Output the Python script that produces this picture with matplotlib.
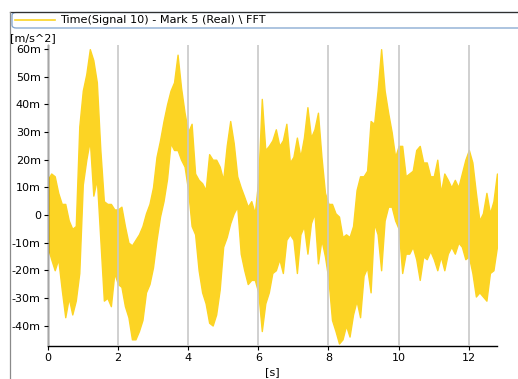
import numpy as np
import matplotlib
matplotlib.use("Agg")
import matplotlib.pyplot as plt
from matplotlib.ticker import FuncFormatter
from matplotlib.patches import FancyBboxPatch
from matplotlib.lines import Line2D

### envelope of the signal, every 0.1 s (values in m/s^2 * 1e-3)
time_s = [round(0.1 * i, 1) for i in range(128)] + [12.8]
upper_milli = [
    12.7, 15, 14, 8, 4, 4, -2, -5, -4, 32,
    45, 51, 60, 56, 48, 23.5, 5, 4, 4, 2,
    2, 3, -4, -10, -11, -9, -7, -4, 0.6, 4,
    10, 21, 27, 34, 40, 45, 48, 58, 46, 37,
    30, 33, 15, 12.7, 11.5, 9, 22, 20, 20, 17.5,
    12.7, 25, 34, 26, 14, 10, 6.6, 3, 5, 0.6,
    12.7, 42, 23.5, 25, 27, 31, 25, 27, 33, 19,
    21, 28, 21, 28, 39, 28, 31, 37, 21, 8,
    4, 4, 0.6, -0.6, -8, -7, -8, -4, 9, 14,
    14, 16, 34, 33, 45, 60, 45, 37, 30, 21,
    25, 25, 14, 15, 16, 23.5, 25, 19, 19, 14,
    14, 20, 8, 15, 12.7, 10, 12.7, 10, 15, 20,
    23.5, 19, 8, -2, 0.6, 8, 0.6, 5, 15,
]
lower_milli = [
    -11.5, -16, -20, -16, -27, -37, -30, -36, -31, -21,
    11, 20, 27, 7, 13, -9, -31, -30, -33, -21,
    -25, -26, -33, -37, -45, -45, -42, -38, -28, -25,
    -19, -9, -0.6, 5, 13, 26, 23.5, 23.5, 20, 17.5,
    9, -4, -7, -20, -28, -32, -39, -40, -36, -27,
    -11.5, -8, -3, 0.6, 3, -14, -20, -25, -23.5, -23.5,
    -28, -42, -32, -28, -21, -20, -16, -21, -9, -7,
    -9, -21, -7, -4, -14, -3, 0.6, -17.5, -9, -15,
    -23.5, -38, -42, -46.5, -45, -40, -44, -36, -31, -37,
    -22, -19, -28, -3, -7, -20, -2, 3, 3, -2,
    -5, -21, -14, -14, -11.5, -16, -23.5, -15, -16, -13,
    -16, -20, -15, -20, -14, -11.5, -14, -10, -11.5, -16,
    -15, -21, -29.5, -28, -29.5, -31, -21, -20, -11.5,
]
x_ticks = [0, 2, 4, 6, 8, 10, 12]
y_ticks = [-40, -30, -20, -10, 0, 10, 20, 30, 40, 50, 60]
legend_text = "Time(Signal 10) - Mark 5 (Real) \\ FFT"
sig_color = "#fcd424"

W, H = 518, 379
fig = plt.figure(figsize=(W / 100, H / 100), dpi=100)
ax = fig.add_axes([47.7 / W, 1 - 345.7 / H, (497.3 - 47.7) / W, (345.7 - 45) / H])

t = np.array(time_s)
up = np.array(upper_milli)
lo = np.array(lower_milli)
ax.fill_between(t, lo, up, color=sig_color, linewidth=1.0, edgecolor=sig_color, zorder=1)

ax.set_xlim(0, 12.81)
ax.set_ylim(-47.3, 61.5)
ax.set_xticks(x_ticks)
ax.set_yticks(y_ticks)
ax.yaxis.set_major_formatter(FuncFormatter(lambda v, p: "0" if v == 0 else f"{v:g}m"))
ax.tick_params(axis="both", labelsize=8, length=3, width=0.8, color="black", pad=2)
ax.grid(axis="x", color="#c8c8c8", linewidth=1.2)
ax.set_axisbelow(False)
for s in ["top", "right"]:
    ax.spines[s].set_visible(False)
for s in ["left", "bottom"]:
    ax.spines[s].set_linewidth(1.0)
ax.set_xlabel("[s]", fontsize=8, labelpad=3)

### y unit label top left
fig.text(10 / W, 1 - 38 / H, "[m/s^2]", fontsize=8, va="center", ha="left")

### window frame lines
fig.add_artist(Line2D([9.5 / W, 1], [1 - 11.5 / H, 1 - 11.5 / H], color="#303030", linewidth=0.9))
fig.add_artist(Line2D([9.5 / W, 9.5 / W], [0, 1 - 11.5 / H], color="#8a8a8a", linewidth=0.9))

### legend bar
box = FancyBboxPatch((12 / W, 1 - 28 / H), (W + 10 - 12) / W, 15.5 / H,
                     boxstyle="round,pad=0,rounding_size=0.008",
                     transform=fig.transFigure, facecolor="white",
                     edgecolor="#7fa3cf", linewidth=0.9)
fig.add_artist(box)
fig.add_artist(Line2D([15 / W, 55 / W], [1 - 19.5 / H, 1 - 19.5 / H], color=sig_color, linewidth=1.2))
fig.text(60 / W, 1 - 20 / H, legend_text, fontsize=8.1, va="center", ha="left")

fig.savefig("out.png", dpi=100)
